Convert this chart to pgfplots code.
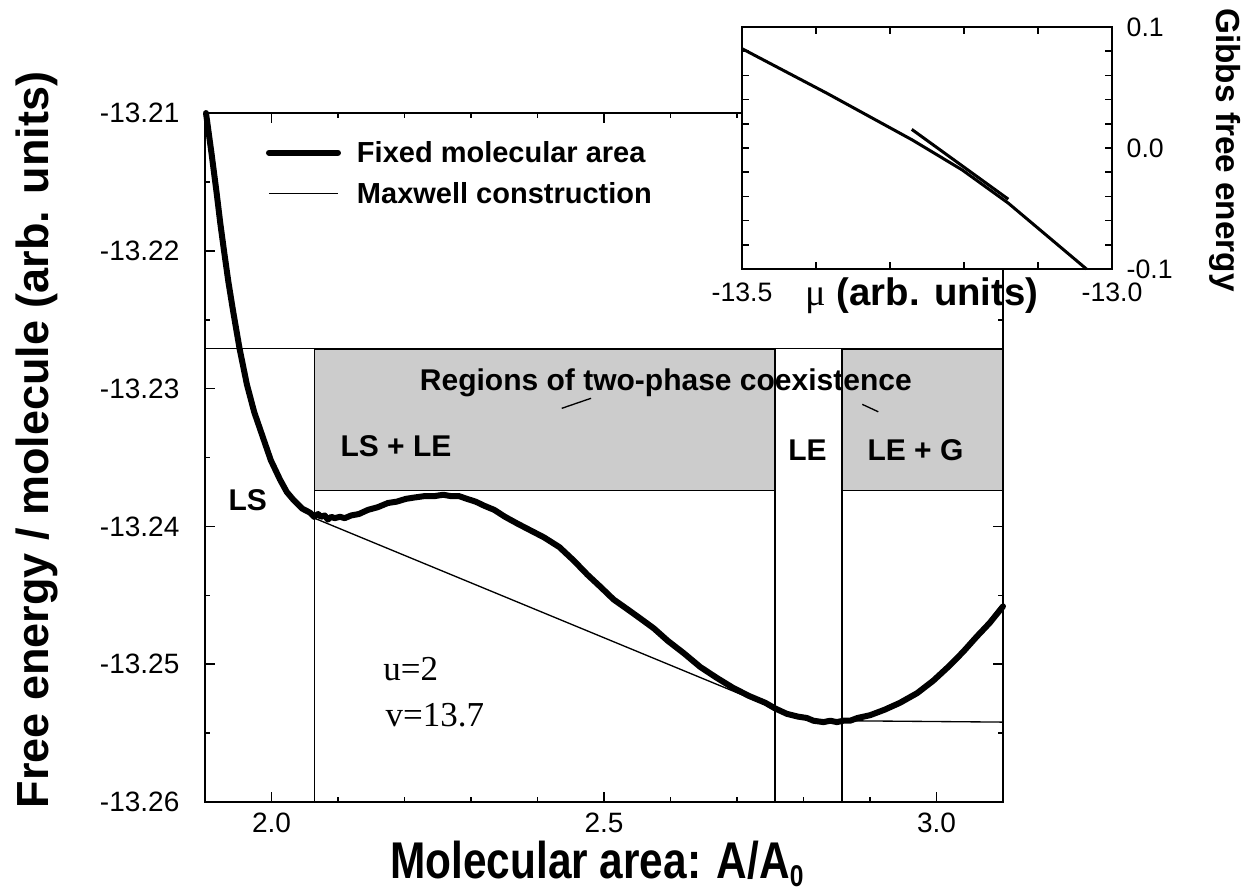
\documentclass[border=0pt]{standalone}
\usepackage{fontspec}
\setmainfont{Liberation Sans}
\newfontfamily\serif{Liberation Serif}
\newfontfamily\xlab{Liberation Sans}[FakeStretch=0.82]
\usepackage{pgfplots}
\pgfplotsset{compat=1.18}
\definecolor{boxgray}{gray}{0.8}

\begin{document}
\begin{tikzpicture}
\begin{axis}[
  name=main, at={({205*0.3pt},{-802*0.3pt})}, anchor=south west,
  scale only axis, width=239.4pt, height=206.7pt,
  xmin=1.9, xmax=3.1, ymin=-13.26, ymax=-13.21,
  xtick={2.0,2.5,3.0}, xticklabels={2.0,2.5,3.0},
  minor xtick={1.9,2.1,2.2,2.3,2.4,2.6,2.7,2.8,2.9,3.1},
  ytick={-13.26,-13.25,-13.24,-13.23,-13.22,-13.21},
  yticklabels={-13.26,-13.25,-13.24,-13.23,-13.22,-13.21},
  minor ytick={-13.255,-13.245,-13.235,-13.225,-13.215},
  tick align=inside, xtick pos=both, ytick pos=both,
  xticklabel pos=bottom, yticklabel pos=left,
  major tick length=3pt, minor tick length=1.6pt,
  axis line style={line width=0.6pt},
  every tick/.append style={line width=0.5pt, black},
  tick label style={font=\fontsize{8.4pt}{10pt}\selectfont, inner sep=0pt},
  xticklabel style={yshift=-3pt},
  yticklabel style={xshift=-7.5pt},
  clip=false,
  legend image code/.code={\draw[#1] (0pt,3.1pt) -- (20.7pt,3.1pt);},
  legend cell align=left,
  legend style={draw=none, fill=none, inner sep=0pt, outer sep=0pt,
    at={(axis cs:1.9917,-13.2121)}, anchor=north west,
    font=\fontsize{8.7pt}{10pt}\selectfont\bfseries,
    nodes={inner sep=0pt, anchor=base west},
    row sep=4.4pt,
    /tikz/every odd column/.style={column sep=4.8pt}},
]
% two-phase boxes
\addplot[fill=boxgray, draw=black, line width=0.5pt, forget plot]
  coordinates {(2.0645,-13.2374) (2.757,-13.2374) (2.757,-13.2271) (2.0645,-13.2271)} -- cycle;
\addplot[fill=boxgray, draw=black, line width=0.5pt, forget plot]
  coordinates {(2.858,-13.2374) (3.1,-13.2374) (3.1,-13.2271) (2.858,-13.2271)} -- cycle;
\addplot[black, line width=0.4pt, forget plot] coordinates {(1.9,-13.2271) (3.1,-13.2271)};
\addplot[black, line width=0.4pt, forget plot] coordinates {(2.0645,-13.26) (2.0645,-13.2271)};
\addplot[black, line width=0.4pt, forget plot] coordinates {(2.757,-13.26) (2.757,-13.2271)};
\addplot[black, line width=0.4pt, forget plot] coordinates {(2.858,-13.26) (2.858,-13.2271)};
% pointer ticks
\addplot[black, line width=0.4pt, forget plot] coordinates {(2.4364,-13.23143) (2.4805,-13.23070)};
\addplot[black, line width=0.4pt, forget plot] coordinates {(2.8884,-13.23114) (2.9125,-13.23168)};
% fixed molecular area
\addplot[black, line width=1.8pt, line cap=round, line join=round] coordinates {
(1.9015,-13.2100) (1.9100,-13.2130) (1.9175,-13.2158) (1.9230,-13.2180)
(1.9286,-13.2200) (1.9350,-13.2222) (1.9420,-13.2243) (1.9520,-13.2271)
(1.9630,-13.2297) (1.9740,-13.2317) (1.9847,-13.2332) (1.9990,-13.2352)
(2.0128,-13.2366) (2.0230,-13.2375) (2.0335,-13.2381) (2.0460,-13.2387)
(2.0579,-13.2390) (2.0640,-13.2393) (2.0700,-13.2391) (2.0744,-13.2393)
(2.0800,-13.2392) (2.0847,-13.2395) (2.0900,-13.2393) (2.0947,-13.2394)
(2.1030,-13.2393) (2.1100,-13.2394) (2.1200,-13.2392) (2.1314,-13.2391)
(2.1450,-13.2388) (2.1600,-13.2386) (2.1750,-13.2383) (2.1884,-13.2382)
(2.2020,-13.2380) (2.2150,-13.2379) (2.2300,-13.2378) (2.2454,-13.2378)
(2.2580,-13.2377) (2.2700,-13.2378) (2.2820,-13.2378) (2.2940,-13.2380)
(2.3070,-13.2382) (2.3200,-13.2385) (2.3350,-13.2388) (2.3511,-13.2393)
(2.3700,-13.2398) (2.3900,-13.2403) (2.4100,-13.2408) (2.4329,-13.2415)
(2.4550,-13.2425) (2.4750,-13.2435) (2.4950,-13.2444) (2.5144,-13.2453)
(2.5350,-13.2460) (2.5552,-13.2467) (2.5750,-13.2474) (2.5959,-13.2483)
(2.6200,-13.2492) (2.6448,-13.2502) (2.6700,-13.2510) (2.6937,-13.2517)
(2.7180,-13.2523) (2.7427,-13.2528) (2.7570,-13.2532) (2.7750,-13.2536)
(2.7916,-13.2538) (2.8050,-13.2539) (2.8150,-13.2541) (2.8300,-13.2542)
(2.8404,-13.2541) (2.8500,-13.2542) (2.8600,-13.2541) (2.8700,-13.2541)
(2.8812,-13.2539) (2.9000,-13.2537) (2.9220,-13.2533) (2.9450,-13.2528)
(2.9708,-13.2521) (2.9950,-13.2512) (3.0197,-13.2501) (3.0400,-13.2491)
(3.0604,-13.2480) (3.0800,-13.2470) (3.1000,-13.2458)};
\addlegendentry{Fixed molecular area}
% Maxwell construction
\addplot[black, line width=0.4pt] coordinates {(2.0645,-13.2394) (2.757,-13.2532)};
\addlegendentry{Maxwell construction}
\addplot[black, line width=0.4pt, forget plot] coordinates {(2.858,-13.2541) (3.1,-13.2542)};
% labels
\node[anchor=base, inner sep=0pt, font=\fontsize{9pt}{10pt}\selectfont\bfseries]
  at (axis cs:2.593,-13.2301) {Regions of two-phase coexistence};
\node[anchor=base west, inner sep=0pt, font=\fontsize{9pt}{10pt}\selectfont\bfseries]
  at (axis cs:2.1029,-13.2349) {LS + LE};
\node[anchor=base, inner sep=0pt, font=\fontsize{9pt}{10pt}\selectfont\bfseries]
  at (axis cs:2.806,-13.23525) {LE};
\node[anchor=base, inner sep=0pt, font=\fontsize{9pt}{10pt}\selectfont\bfseries]
  at (axis cs:2.9684,-13.23525) {LE + G};
\node[anchor=base, inner sep=0pt, font=\fontsize{9pt}{10pt}\selectfont\bfseries]
  at (axis cs:1.9642,-13.23886) {LS};
\node[anchor=base west, inner sep=0pt, font=\fontsize{10.5pt}{12pt}\serif]
  at (axis cs:2.1672,-13.25115) {u=2};
\node[anchor=base west, inner sep=0pt, font=\fontsize{10.5pt}{12pt}\serif]
  at (axis cs:2.1707,-13.2545) {v=13.7};
\end{axis}

\begin{axis}[
  name=inset, at={({742*0.3pt},{-269*0.3pt})}, anchor=south west,
  scale only axis, width=111pt, height=72.6pt,
  xmin=-13.5, xmax=-13.0, ymin=-0.1, ymax=0.1,
  axis background/.style={fill=white},
  xtick={-13.5,-13.4,-13.3,-13.2,-13.1,-13.0},
  xticklabels={-13.5,,,,,-13.0},
  ytick={-0.1,-0.08,-0.06,-0.04,-0.02,0,0.02,0.04,0.06,0.08,0.1},
  yticklabels={-0.1,,,,,0.0,,,,,0.1},
  tick align=inside, xtick pos=both, ytick pos=both,
  xticklabel pos=bottom, yticklabel pos=right,
  major tick length=2pt,
  axis line style={line width=0.6pt},
  every tick/.append style={line width=0.5pt, black},
  tick label style={font=\fontsize{8pt}{9pt}\selectfont, inner sep=0pt},
  xticklabel style={yshift=-3.9pt},
  yticklabel style={xshift=4.2pt},
  clip=false,
]
\addplot[black, line width=0.9pt] coordinates {
(-13.5,0.0821) (-13.3848,0.0451) (-13.2697,0.0066) (-13.2025,-0.0181)
(-13.1401,-0.0456) (-13.0345,-0.1)};
\addplot[black, line width=0.9pt] coordinates {(-13.2706,0.0154) (-13.1401,-0.0423)};
\end{axis}

\node[anchor=base, inner sep=0pt, font=\fontsize{11.5pt}{13pt}\selectfont]
  at ({922*0.3pt},{-305*0.3pt}) {{\serif μ} \textbf{(arb. units)}};
\node[anchor=base, inner sep=0pt, rotate=-90, font=\fontsize{10pt}{12pt}\selectfont\bfseries]
  at ({1216*0.3pt},{-150*0.3pt}) {Gibbs free energy};
\node[anchor=base, inner sep=0pt, rotate=90, font=\fontsize{13.5pt}{15pt}\selectfont\bfseries]
  at ({48*0.3pt},{-440*0.3pt}) {Free energy / molecule (arb. units)};
\node[anchor=base, inner sep=0pt]
  at ({597*0.3pt},{-878*0.3pt}) {\xlab\bfseries\fontsize{15.5pt}{17pt}\selectfont Molecular area: A/A\raisebox{-2.5pt}{\fontsize{9pt}{10pt}\selectfont 0}};

\pgfresetboundingbox
\path (0,0) rectangle ({1250*0.3pt},{-890*0.3pt});
\end{tikzpicture}
\end{document}
